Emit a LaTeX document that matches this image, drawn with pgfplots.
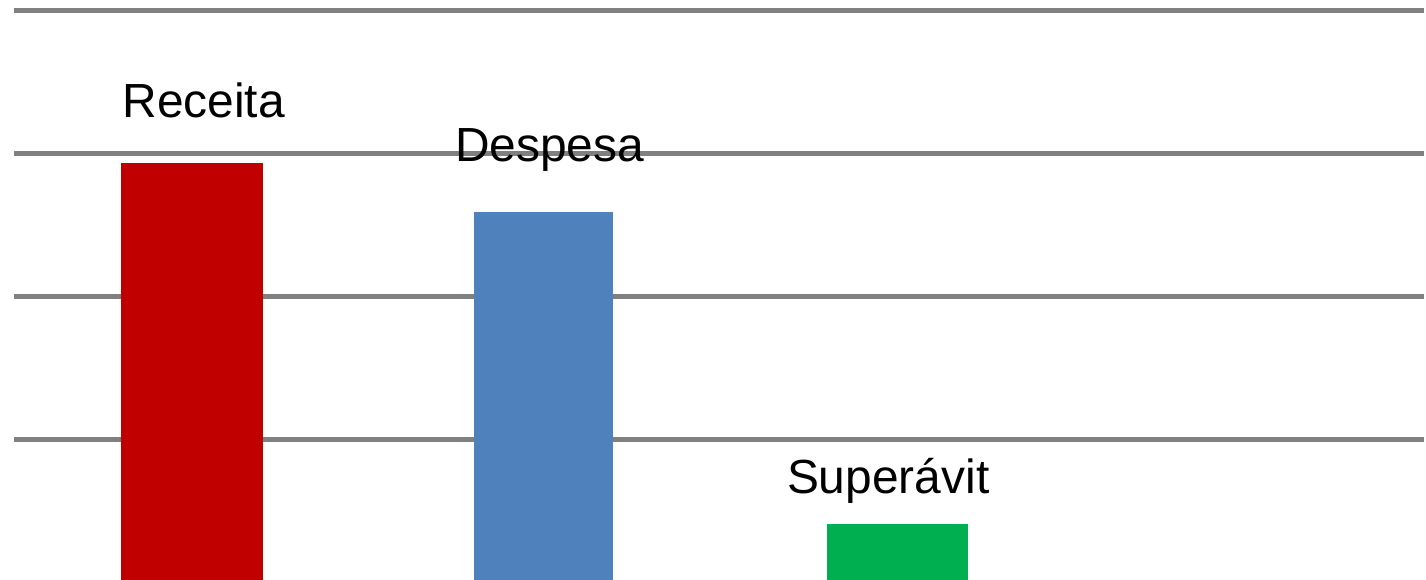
\documentclass[border=0pt]{standalone}
\usepackage{fontspec}
\setmainfont{Liberation Sans}
\usepackage{pgfplots}
\pgfplotsset{compat=1.18}
\definecolor{cRed}{RGB}{192,0,0}
\definecolor{cBlue}{RGB}{79,129,189}
\definecolor{cGreen}{RGB}{0,176,80}
\definecolor{cGrid}{RGB}{128,128,128}
\begin{document}
\begin{tikzpicture}
\begin{axis}[
  scale only axis,
  width=706.5pt, height=290.5pt,
  xmin=-0.5064, xmax=3.502,
  ymin=0.024, ymax=4.070,
  axis line style={draw=none},
  xtick=\empty,
  ytick={1,2,3,4},
  yticklabels={},
  major tick length=0pt,
  ymajorgrids,
  grid style={cGrid, line width=2.5pt},
  clip=true,
]
\addplot[ybar, bar width=71pt, bar shift=0pt, fill=cRed, draw=none] coordinates {(0,2.935)};
\addplot[ybar, bar width=70pt, bar shift=0pt, fill=cBlue, draw=none] coordinates {(1,2.587)};
\addplot[ybar, bar width=71pt, bar shift=0pt, fill=cGreen, draw=none] coordinates {(2.006,0.414)};
\node[anchor=base, inner sep=0pt, font=\fontsize{24}{28}\selectfont] at (axis cs:0.034,3.249) {Receita};
\node[anchor=base, inner sep=0pt, font=\fontsize{24}{28}\selectfont] at (axis cs:1.017,2.942) {Despesa};
\node[anchor=base, inner sep=0pt, font=\fontsize{24}{28}\selectfont] at (axis cs:1.980,0.623) {Superávit};
\end{axis}
\path[use as bounding box] ([xshift=-6pt]current axis.south west) rectangle ([xshift=0.5pt]current axis.north east);
\end{tikzpicture}
\end{document}
